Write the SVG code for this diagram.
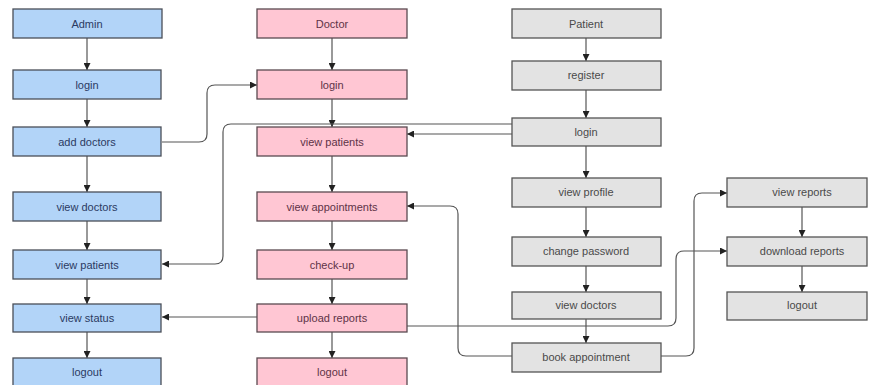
<svg xmlns="http://www.w3.org/2000/svg" width="869" height="385" viewBox="0 0 869 385">
<defs>
<marker id="ah" viewBox="0 0 10 10" refX="10" refY="5" markerWidth="7" markerHeight="7" orient="auto" markerUnits="userSpaceOnUse">
<path d="M0,0 L10,5 L0,10 z" fill="#222"/>
</marker>
<style>
.a rect{fill:#b2d4f8;stroke:#4a4f58;stroke-width:1.3}
.d rect{fill:#ffc6d3;stroke:#5a4a50;stroke-width:1.3}
.p rect{fill:#e3e3e3;stroke:#555;stroke-width:1.3}
text{font-family:"Liberation Sans",Arial,sans-serif;font-size:11px;text-anchor:middle;dominant-baseline:central}
.a text{fill:#2b3a62}
.d text{fill:#5e3347}
.p text{fill:#4a4a4a}
.c path{fill:none;stroke:#555;stroke-width:1.2;marker-end:url(#ah)}
</style>
</defs>
<rect width="869" height="385" fill="#fff"/>
<g class="c">
<path d="M87,38 V70"/>
<path d="M87,99 V127"/>
<path d="M87,156 V192"/>
<path d="M87,221 V250"/>
<path d="M87,279 V304"/>
<path d="M87,332 V358"/>
<path d="M332,38 V70"/>
<path d="M332,99 V127"/>
<path d="M332,156 V192"/>
<path d="M332,221 V250"/>
<path d="M332,279 V304"/>
<path d="M332,332 V358"/>
<path d="M586,38 V61"/>
<path d="M586,90 V118"/>
<path d="M586,146 V178"/>
<path d="M586,207 V237"/>
<path d="M586,266 V292"/>
<path d="M586,319 V343"/>
<path d="M802,207 V237"/>
<path d="M802,266 V292"/>
<path d="M162,142 H199 Q207,142 207,134 V93 Q207,85 215,85 H257"/>
<path d="M512,124 H231 Q223,124 223,132 V256 Q223,264 215,264 H162"/>
<path d="M512,134 H407"/>
<path d="M257,317 H162"/>
<path d="M407,326 H668 Q676,326 676,318 V259 Q676,251 684,251 H727"/>
<path d="M661,356 H686 Q694,356 694,348 V201 Q694,193 702,193 H727"/>
<path d="M512,356 H466 Q458,356 458,348 V214 Q458,206 450,206 H407"/>
</g>
<g id="admin" class="a"><rect x="13" y="9" width="149" height="29"/><text x="87" y="24">Admin</text></g>
<g id="admin-login" class="a"><rect x="13" y="70" width="148" height="29"/><text x="87" y="85">login</text></g>
<g id="admin-add-doctors" class="a"><rect x="13" y="127" width="148" height="29"/><text x="87" y="142">add doctors</text></g>
<g id="admin-view-doctors" class="a"><rect x="13" y="192" width="148" height="29"/><text x="87" y="207">view doctors</text></g>
<g id="admin-view-patients" class="a"><rect x="13" y="250" width="148" height="29"/><text x="87" y="265">view patients</text></g>
<g id="admin-view-status" class="a"><rect x="13" y="304" width="148" height="28"/><text x="87" y="318">view status</text></g>
<g id="admin-logout" class="a"><rect x="13" y="358" width="148" height="29"/><text x="87" y="372">logout</text></g>
<g id="doctor" class="d"><rect x="257" y="9" width="150" height="29"/><text x="332" y="24">Doctor</text></g>
<g id="doctor-login" class="d"><rect x="257" y="70" width="150" height="29"/><text x="332" y="85">login</text></g>
<g id="doctor-view-patients" class="d"><rect x="257" y="127" width="150" height="29"/><text x="332" y="142">view patients</text></g>
<g id="doctor-view-appointments" class="d"><rect x="257" y="192" width="150" height="29"/><text x="332" y="207">view appointments</text></g>
<g id="doctor-check-up" class="d"><rect x="257" y="250" width="150" height="29"/><text x="332" y="265">check-up</text></g>
<g id="doctor-upload-reports" class="d"><rect x="257" y="304" width="150" height="28"/><text x="332" y="318">upload reports</text></g>
<g id="doctor-logout" class="d"><rect x="257" y="358" width="150" height="29"/><text x="332" y="372">logout</text></g>
<g id="patient" class="p"><rect x="512" y="9" width="149" height="29"/><text x="586" y="24">Patient</text></g>
<g id="patient-register" class="p"><rect x="512" y="61" width="149" height="29"/><text x="586" y="75">register</text></g>
<g id="patient-login" class="p"><rect x="512" y="118" width="149" height="28"/><text x="586" y="132">login</text></g>
<g id="patient-view-profile" class="p"><rect x="512" y="178" width="149" height="29"/><text x="586" y="192">view profile</text></g>
<g id="patient-change-password" class="p"><rect x="512" y="237" width="149" height="29"/><text x="586" y="251">change password</text></g>
<g id="patient-view-doctors" class="p"><rect x="512" y="292" width="149" height="27"/><text x="586" y="305">view doctors</text></g>
<g id="patient-book-appointment" class="p"><rect x="512" y="343" width="149" height="29"/><text x="586" y="357">book appointment</text></g>
<g id="patient-view-reports" class="p"><rect x="727" y="178" width="140" height="29"/><text x="802" y="192">view reports</text></g>
<g id="patient-download-reports" class="p"><rect x="727" y="237" width="140" height="29"/><text x="802" y="251">download reports</text></g>
<g id="patient-logout" class="p"><rect x="727" y="292" width="140" height="28"/><text x="802" y="305">logout</text></g>
</svg>
